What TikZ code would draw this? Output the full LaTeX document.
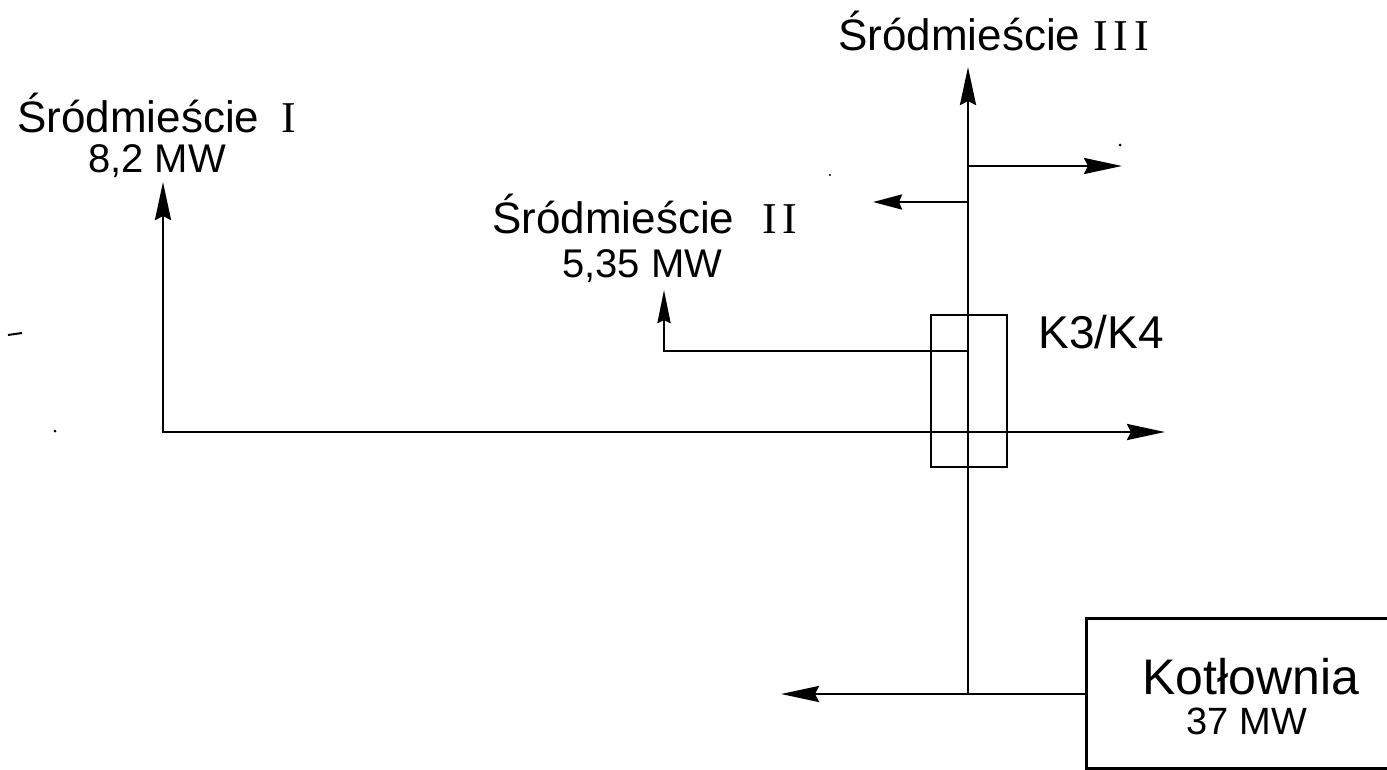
\documentclass[tikz,border=0pt]{standalone}
\usepackage{fontspec}
\setmainfont{Liberation Sans}
\newfontfamily\romfont{Liberation Serif}
\usetikzlibrary{arrows.meta}
\begin{document}
\begin{tikzpicture}[x=1pt,y=-1pt,
  pipe/.style={line width=2.8pt,line join=miter},
  bigtip/.tip={Stealth[length=38pt,width=16pt,inset=4pt]},
  smalltip/.tip={Stealth[length=29pt,width=15pt,inset=3pt]},
  tinytip/.tip={Stealth[length=33pt,width=13pt,inset=3pt]},
  box/.style={draw,line width=2.8pt,inner sep=0pt,fill=none},
  lbl/.style={inner sep=0pt,anchor=base west,font=\fontsize{44}{48}\selectfont},
  val/.style={inner sep=0pt,anchor=base west,font=\fontsize{40}{44}\selectfont}]
\useasboundingbox (0,0) rectangle (1387,769);
\fill[white] (0,0) rectangle (1387,769);

% boxes
\node[box,minimum width=76pt,minimum height=152pt] (k34) at (969,391) {};
\node[box,anchor=north west,minimum width=320pt,minimum height=150pt] (kot) at (1085,617) {};

% junction coordinates
\coordinate (top) at (968,67);
\coordinate (jR) at (968,166);
\coordinate (endR) at (1122,166);
\coordinate (jL) at (968,202);
\coordinate (endL) at (873,202);
\coordinate (j2) at (968,351);
\coordinate (c2) at (664,351);
\coordinate (t2) at (664,290);
\coordinate (c1) at (163,432);
\coordinate (t1) at (163,182);
\coordinate (e1) at (1165,432);
\coordinate (jb) at (968,694);
\coordinate (eb) at (781,694);

% connectors
\draw[pipe,-bigtip] (jb) -- (top);
\draw[pipe,-bigtip] (kot.west |- jb) -- (eb);
\draw[pipe,-bigtip] (jR) -- (endR);
\draw[pipe,-smalltip] (jL) -- (endL);
\draw[pipe,-tinytip] (j2) -- (c2) -- (t2);
\draw[pipe,bigtip-bigtip] (t1) -- (c1) -- (e1);

% labels
\node[lbl] (s3) at (838,50) {Śródmieście\hspace{13pt}{\romfont I\kern6pt I\kern6pt I}};
\node[lbl] (s1) at (17,132) {Śródmieście\hspace{22pt}{\romfont I}};
\node[val] (p1) at (88,172) {8,2 MW};
\node[lbl] (s2) at (492,233) {Śródmieście\hspace{28pt}{\romfont I\kern6pt I}};
\node[val] (p2) at (562,277) {5,35 MW};
\node[inner sep=0pt,anchor=base,font=\fontsize{46}{50}\selectfont] (k34l) at (1101,348) {K3/K4};
\node[inner sep=0pt,anchor=base,font=\fontsize{50}{54}\selectfont] (kotl) at (1251,694) {Kotłownia};
\node[inner sep=0pt,anchor=base,font=\fontsize{38}{42}\selectfont] (kotp) at (1247,734) {37 MW};

% scan specks
\draw[line width=2pt] (8,335) -- (22,333);
\fill (55,431) circle (1.5pt);
\fill (1120,145) circle (1.5pt);
\fill (830,175) circle (1.2pt);
\end{tikzpicture}
\end{document}
